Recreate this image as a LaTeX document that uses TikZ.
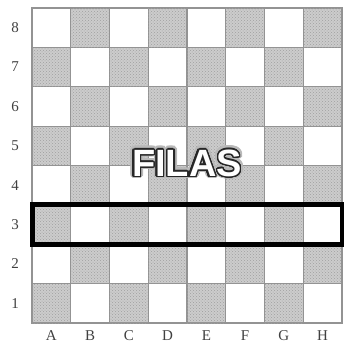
\documentclass[tikz,border=0pt]{standalone}
\usepackage{fontspec}
\setmainfont{Liberation Serif}
\newfontfamily\filasfont{Liberation Sans}
\usepackage[copies]{contour}
\contournumber{32}
\usetikzlibrary{patterns}
\begin{document}
\begin{tikzpicture}[x=1pt,y=-1pt,
  sq/.style={draw=gray!85,line width=1.1pt,minimum width=38.75pt,minimum height=39.375pt,anchor=north west,inner sep=0pt,outer sep=0pt},
  darksq/.style={sq,fill=gray!40,postaction={pattern=crosshatch dots,pattern color=gray!75}},
  lightsq/.style={sq,fill=white},
  lab/.style={font=\fontsize{15}{15}\selectfont,text=black!75,inner sep=0pt},
  rowbox/.style={draw=black,line width=5pt},
  filas/.style={font=\filasfont\bfseries\fontsize{38}{38}\selectfont,inner sep=0pt}]
\useasboundingbox (0,0) rectangle (344,343);
\clip (0,0) rectangle (344,343);
\foreach \c [count=\i] in {A,B,C,D,E,F,G,H} {
  \foreach \r in {1,...,8} {
    \pgfmathtruncatemacro{\parity}{mod(\i+\r,2)}
    \ifnum\parity=0
      \node[darksq] (s\c\r) at ({32+(\i-1)*38.75},{8+(8-\r)*39.375}) {};
    \else
      \node[lightsq] (s\c\r) at ({32+(\i-1)*38.75},{8+(8-\r)*39.375}) {};
    \fi
  }
  \node[lab] (col\c) at ({32+(\i-0.5)*38.75},336) {\c};
}
\foreach \r in {1,...,8} {
  \node[lab] (row\r) at (15,{8+(8.5-\r)*39.375}) {\r};
}
\draw[rowbox] (sA3.north west) rectangle (sH3.south east);
\node[filas] (glow) at (187,164) {\contourlength{3.2pt}\contour{gray!55}{\color{white}FILAS}};
\node[filas] (title) at (187,164) {\contourlength{1.4pt}\contour{black!85}{\color{white}FILAS}};
\end{tikzpicture}
\end{document}
